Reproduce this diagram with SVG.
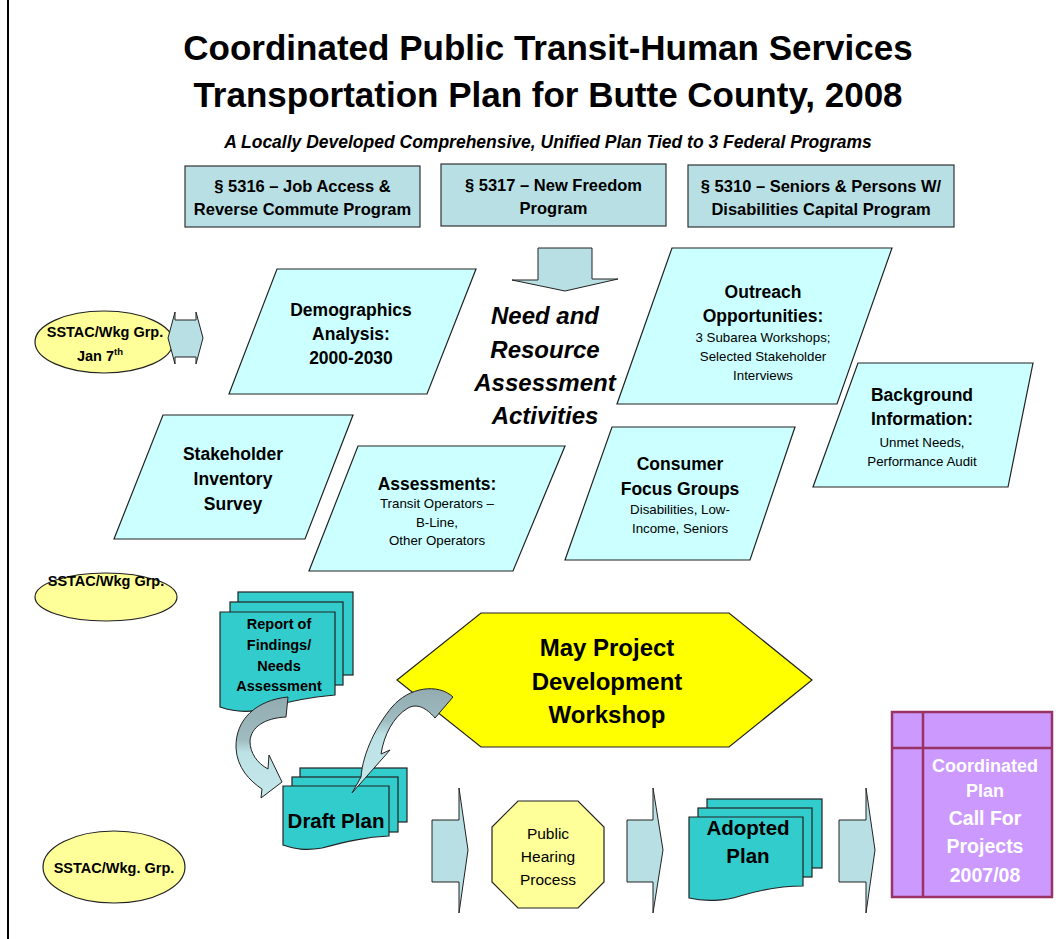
<svg xmlns="http://www.w3.org/2000/svg" width="1058" height="939" viewBox="0 0 1058 939">
<style>
text{font-family:"Liberation Sans",Arial,sans-serif;text-anchor:middle;fill:#000}
.b{font-weight:bold}
.bi{font-weight:bold;font-style:italic}
.w{fill:#fff}
.box{fill:#b8dfe3;stroke:#333;stroke-width:1.2}
.para{fill:#ccffff;stroke:#222;stroke-width:1.2}
.blk{fill:#b8dfe3;stroke:#222;stroke-width:1}
.doc{fill:#33cccc;stroke:#222;stroke-width:1.2}
.ell{fill:#ffff99;stroke:#222;stroke-width:1.2}
.t1{font-size:35px;font-weight:bold}
.bx{font-size:16.5px;font-weight:bold}
.pt{font-size:17.5px;font-weight:bold}
.sm{font-size:13.3px}
.ss{font-size:14.5px;font-weight:bold}
</style>
<defs>
<linearGradient id="g1" x1="0" y1="0" x2="0" y2="1">
<stop offset="0" stop-color="#92abb0"/><stop offset="0.42" stop-color="#9fbcc0"/><stop offset="0.55" stop-color="#bde2e5"/><stop offset="1" stop-color="#c4e7ea"/>
</linearGradient>
<linearGradient id="g2" x1="0" y1="0" x2="0" y2="1">
<stop offset="0" stop-color="#92abb0"/><stop offset="0.3" stop-color="#9fbcc0"/><stop offset="0.45" stop-color="#bde2e5"/><stop offset="1" stop-color="#c4e7ea"/>
</linearGradient>
</defs>
<rect width="1058" height="939" fill="#fff"/>
<line x1="8" y1="0" x2="8" y2="939" stroke="#000" stroke-width="2"/>

<g id="title">
<text class="t1" x="548" y="60">Coordinated Public Transit-Human Services</text>
<text class="t1" x="548" y="107">Transportation Plan for Butte County, 2008</text>
<text class="bi" x="548" y="148" font-size="17.5">A Locally Developed Comprehensive, Unified Plan Tied to 3 Federal Programs</text>
</g>

<g id="prog5316">
<rect class="box" x="185" y="166" width="235" height="61"/>
<text class="bx" x="302.5" y="192">§ 5316 – Job Access  &amp;</text>
<text class="bx" x="302.5" y="215">Reverse Commute Program</text>
</g>
<g id="prog5317">
<rect class="box" x="441" y="164" width="225" height="62" stroke="#111"/>
<text class="bx" x="553.5" y="191">§ 5317 – New Freedom</text>
<text class="bx" x="553.5" y="214">Program</text>
</g>
<g id="prog5310">
<rect class="box" x="688" y="165" width="266" height="62"/>
<text class="bx" x="821" y="192">§ 5310 – Seniors &amp; Persons W/</text>
<text class="bx" x="821" y="215">Disabilities Capital Program</text>
</g>

<g id="needLabel">
<text class="bi" font-size="24" x="545" y="324">Need and</text>
<text class="bi" font-size="24" x="545" y="358">Resource</text>
<text class="bi" font-size="24" x="545" y="391">Assessment</text>
<text class="bi" font-size="24" x="545" y="424">Activities</text>
</g>

<g id="demographics">
<polygon class="para" points="277,269 476,269 427,394 229,394"/>
<text class="pt" x="351" y="316">Demographics</text>
<text class="pt" x="351" y="340">Analysis:</text>
<text class="pt" x="351" y="364">2000-2030</text>
</g>
<g id="outreach">
<polygon class="para" points="672,248 892,248 837,404 617,404"/>
<text class="pt" x="763" y="298">Outreach</text>
<text class="pt" x="763" y="322">Opportunities:</text>
<text class="sm" x="763" y="342">3 Subarea Workshops;</text>
<text class="sm" x="763" y="361">Selected Stakeholder</text>
<text class="sm" x="763" y="380">Interviews</text>
</g>
<g id="background">
<polygon class="para" points="858,363 1033,363 1008,487 813,487"/>
<text class="pt" x="922" y="401">Background</text>
<text class="pt" x="922" y="425">Information:</text>
<text class="sm" x="922" y="447">Unmet Needs,</text>
<text class="sm" x="922" y="466">Performance Audit</text>
</g>
<g id="stakeholder">
<polygon class="para" points="163,415 353,415 305,539 114,539"/>
<text class="pt" x="233" y="460">Stakeholder</text>
<text class="pt" x="233" y="485">Inventory</text>
<text class="pt" x="233" y="510">Survey</text>
</g>
<g id="assessments">
<polygon class="para" points="358,446 565,446 513,571 309,571"/>
<text class="pt" x="437" y="490">Assessments:</text>
<text class="sm" x="437" y="508">Transit Operators –</text>
<text class="sm" x="437" y="527">B-Line,</text>
<text class="sm" x="437" y="545">Other Operators</text>
</g>
<g id="consumer">
<polygon class="para" points="612,427 795,427 750,560 565,560"/>
<text class="pt" x="680" y="470">Consumer</text>
<text class="pt" x="680" y="495">Focus Groups</text>
<text class="sm" x="680" y="514">Disabilities, Low-</text>
<text class="sm" x="680" y="533">Income, Seniors</text>
</g>

<g id="sstac1">
<ellipse class="ell" cx="104" cy="342" rx="69" ry="31"/>
<text class="ss" x="105" y="337">SSTAC/Wkg Grp.</text>
<text class="ss" x="100" y="361">Jan 7<tspan font-size="9.5" dy="-6">th</tspan></text>
</g>
<g id="sstac2">
<ellipse class="ell" cx="106" cy="597" rx="71" ry="24"/>
<text class="ss" x="106" y="586">SSTAC/Wkg Grp.</text>
</g>
<g id="sstac3">
<ellipse class="ell" cx="114" cy="867" rx="71" ry="36"/>
<text class="ss" x="114" y="873">SSTAC/Wkg. Grp.</text>
</g>

<g id="workshop">
<polygon points="397,680 481,613 729,613 812,680 729,747 481,747" fill="#ffff00" stroke="#222" stroke-width="1.2"/>
<text class="b" font-size="24" x="607" y="656">May Project</text>
<text class="b" font-size="24" x="607" y="690">Development</text>
<text class="b" font-size="24" x="607" y="723">Workshop</text>
</g>

<g id="report">
<rect class="doc" x="238" y="592" width="115" height="83"/>
<rect class="doc" x="230" y="602" width="113" height="83"/>
<path class="doc" d="M220,612 H335 V695 C310,697 285,702 262,709 C248,713 235,712 220,707 Z"/>
<text class="b" font-size="14.5" x="279" y="629">Report of</text>
<text class="b" font-size="14.5" x="279" y="650">Findings/</text>
<text class="b" font-size="14.5" x="279" y="671">Needs</text>
<text class="b" font-size="14.5" x="279" y="691">Assessment</text>
</g>

<g id="draft">
<rect class="doc" x="300" y="768" width="107" height="54"/>
<rect class="doc" x="292" y="777" width="106" height="55"/>
<path class="doc" d="M283,786 H389 V836 C365,837 345,842 322,848 C305,851 295,849 283,845 Z"/>
<text class="b" font-size="20.5" x="336" y="828">Draft Plan</text>
</g>

<g id="hearing">
<polygon points="518,801 578,801 604,827 604,882 578,908 518,908 492,882 492,827" fill="#ffff99" stroke="#222" stroke-width="1.2"/>
<text x="548" y="839" font-size="15.5">Public</text>
<text x="548" y="862" font-size="15.5">Hearing</text>
<text x="548" y="885" font-size="15.5">Process</text>
</g>

<g id="adopted">
<rect class="doc" x="707" y="799" width="115" height="69"/>
<rect class="doc" x="698" y="808" width="114" height="69"/>
<path class="doc" d="M689,817 H803 V886 C780,886 760,890 740,896 C725,901 705,902 689,898 Z"/>
<text class="b" font-size="20.5" x="748" y="835">Adopted</text>
<text class="b" font-size="20.5" x="748" y="863">Plan</text>
</g>

<g id="callForProjects">
<rect x="892" y="712" width="160" height="185" fill="#cc99ff" stroke="#993366" stroke-width="2.5"/>
<line x1="923" y1="712" x2="923" y2="897" stroke="#993366" stroke-width="2.5"/>
<line x1="892" y1="748" x2="1052" y2="748" stroke="#993366" stroke-width="2.5"/>
<text class="b w" font-size="18" x="985" y="772">Coordinated</text>
<text class="b w" font-size="18" x="985" y="797">Plan</text>
<text class="b w" font-size="19.5" x="985" y="825">Call For</text>
<text class="b w" font-size="19.5" x="985" y="853">Projects</text>
<text class="b w" font-size="19.5" x="985" y="882">2007/08</text>
</g>

<g id="connectors">
<polygon class="blk" points="538,248 592,248 592,279 618,279 565,291 512,280 538,280"/>
<polygon class="blk" points="168,338 175,312 175,320 196,320 196,312 203,338 196,364 196,357 175,357 175,364"/>
<path d="M288,697 C257,700 235,719 236,748 C237,768 250,781 262,789 L261,798 L282,782 L269,755 L268,769 C257,763 250,753 250,741 C251,727 265,718 286,717 Z" fill="url(#g1)" stroke="#222" stroke-width="1"/>
<path d="M453,697 C438,683 409,687 392,707 C377,725 363,752 361,777 L352,793 L390,750 L381,754 C384,735 393,717 408,708 C419,702 429,711 435,718 Z" fill="url(#g2)" stroke="#222" stroke-width="1"/>
<polygon class="blk" points="432,820 459,820 459,788 468,850 459,913 459,882 432,882"/>
<polygon class="blk" points="627,820 653,820 653,788 663,850 653,913 653,882 627,882"/>
<polygon class="blk" points="839,820 866,820 866,788 875,850 866,913 866,882 839,882"/>
</g>
</svg>
